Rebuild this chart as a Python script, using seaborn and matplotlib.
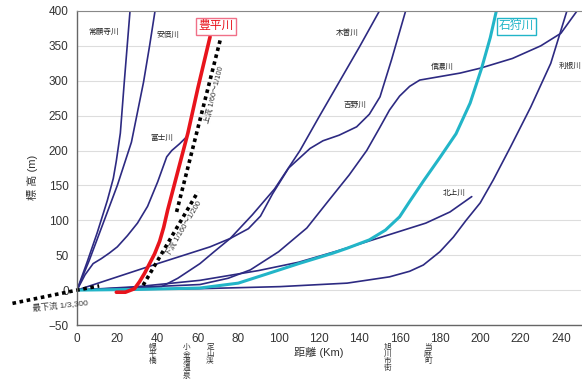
import seaborn as sns
import matplotlib.pyplot as plt

# river long profiles: distance from mouth (km) vs elevation (m)
joganji_x = [0, 5, 10, 15, 18, 19.5, 21.5, 23.5, 26.3]
joganji_y = [0, 40, 82, 128, 160, 185, 225, 300, 400]

abe_x = [0, 6, 13, 20, 27, 30, 33, 36, 38.7]
abe_y = [0, 42, 96, 150, 212, 255, 298, 350, 400]

fuji_x = [0, 4, 8, 12, 16, 20, 25, 30, 35, 40, 44.5, 47, 51, 54.5]
fuji_y = [0, 22, 38, 45, 53, 62, 78, 96, 120, 155, 191, 200, 210, 220]

toyohira_x = [19.5, 24, 28.5, 31, 33.5, 36, 38.5, 41, 43, 45, 50, 55, 60, 66]
toyohira_y = [-3, -3, 2, 12, 24, 38, 52, 70, 90, 115, 170, 225, 290, 363]

kiso_x = [0, 20, 42, 50, 61, 68, 76, 87, 98, 110.6, 120, 130, 140, 150]
kiso_y = [0, 2, 5, 17, 38, 55, 74, 108, 145, 200, 248, 298, 348, 400]

yoshino_x = [0, 20, 40, 66, 76, 85, 91, 97, 105, 115.6, 122, 130, 138.7, 145, 150.3, 156, 163]
yoshino_y = [0, 19, 38, 62, 74, 88, 106, 138, 175, 203, 214, 222, 234, 252, 277, 330, 400]

shinano_x = [0, 30, 61, 75, 86, 100, 114, 125, 135, 143.7, 150, 155, 160, 165, 170,
             180, 190, 200, 216, 230, 240, 248]
shinano_y = [0, 4, 8, 17, 29, 55, 89, 129, 165, 200, 232, 258, 278, 292, 301,
             306, 311, 318, 332, 350, 368, 400]

ishikari_x = [0, 30, 61, 80, 94, 110, 127, 134, 145, 153, 160, 165, 172, 180, 188,
              195, 200.7, 205, 208]
ishikari_y = [0, 1, 3, 10, 23, 38, 53, 60, 72, 86, 105, 127, 157, 190, 224,
              268, 318, 362, 400]

kitakami_x = [0, 30, 61, 90, 110, 129, 150, 173, 185, 195.8]
kitakami_y = [0, 5, 14, 28, 40, 56, 75, 96, 112, 134]

tone_x = [0, 60, 100.7, 134, 155, 165, 171.8, 180, 186.7, 193, 200, 206.5, 215, 225, 235, 243]
tone_y = [0, 2, 5, 10, 19, 27, 36, 55, 76, 100, 125, 158, 205, 262, 325, 400]

# gradient guide lines (dotted)
upper_guide_x = [49.4, 71]
upper_guide_y = [112, 358]
lower_guide_x = [32.8, 60]
lower_guide_y = [7, 141]
mouth_guide_x = [-32, 0, 11]
mouth_guide_y = [-19, 0, 6]

# place names under the distance axis
places = ["幌平橋", "小金湯温泉", "定山渓", "旭川市街", "当麻町"]
place_km = [37.5, 54.5, 66, 154, 174]

sns.set_style("white")
plt.rcParams["font.family"] = ["Liberation Sans", "Noto Sans CJK JP"]

fig = plt.figure(figsize=(5.82, 3.87), dpi=100)
ax = fig.add_axes([0.1323, 0.1602, 0.866, 0.8114])

navy = "#2d2a82"
thin = [(joganji_x, joganji_y), (abe_x, abe_y), (fuji_x, fuji_y), (kiso_x, kiso_y),
        (yoshino_x, yoshino_y), (shinano_x, shinano_y), (kitakami_x, kitakami_y),
        (tone_x, tone_y)]
for xs, ys in thin:
    sns.lineplot(x=xs, y=ys, sort=False, color=navy, lw=1.2, ax=ax)

sns.lineplot(x=ishikari_x, y=ishikari_y, sort=False, color="#22b5c8", lw=2.2, ax=ax)
sns.lineplot(x=toyohira_x, y=toyohira_y, sort=False, color="#e8141c", lw=2.6, ax=ax)

for xs, ys in [(upper_guide_x, upper_guide_y), (lower_guide_x, lower_guide_y),
               (mouth_guide_x, mouth_guide_y)]:
    sns.lineplot(x=xs, y=ys, sort=False, color="black", lw=2.6,
                 linestyle=(0, (1, 1)), ax=ax)
ax.lines[-1].set_clip_on(False)

ax.set_xlim(0, 250)
ax.set_ylim(-50, 400)
ax.set_xticks(range(0, 241, 20))
ax.set_yticks(range(-50, 401, 50))
ax.yaxis.grid(True, color="#dddddd", lw=0.8)
ax.set_axisbelow(True)
ax.tick_params(length=0, labelsize=8.5, labelcolor="#333333", pad=6)
for s in ["left", "bottom"]:
    ax.spines[s].set_color("#666666")
    ax.spines[s].set_linewidth(1.0)
ax.spines["top"].set_color("#888888")
ax.spines["top"].set_linewidth(0.8)
ax.spines["right"].set_visible(False)

ax.set_xlabel("距離 (Km)", fontsize=8, color="#333333")
ax.xaxis.set_label_coords(0.48, -0.07)
ax.set_ylabel("標 高 (m)", fontsize=8, color="#333333")
ax.yaxis.set_label_coords(-0.078, 0.47)

lab = dict(fontsize=5.5, color="#222222", ha="center", va="center")
ax.text(13, 370, "常願寺川", **lab)
ax.text(45, 365, "安倍川", **lab)
ax.text(42, 218, "富士川", **lab)
ax.text(134, 368, "木曽川", **lab)
ax.text(138, 265, "吉野川", **lab)
ax.text(181, 320, "信濃川", **lab)
ax.text(244.5, 320, "利根川", **lab)
ax.text(187, 139, "北上川", **lab)

ax.text(69, 378, "豊平川", fontsize=8.5, color="#e8141c", ha="center", va="center",
        bbox=dict(boxstyle="square,pad=0.2", fc="white", ec="#f07088", lw=1))
ax.text(218, 378, "石狩川", fontsize=8.5, color="#22b5c8", ha="center", va="center",
        bbox=dict(boxstyle="square,pad=0.2", fc="white", ec="#22b5c8", lw=1))

guide = dict(fontsize=5.5, color="#333333", ha="center", va="center")
ax.text(68, 280, "上流 1/60～1/100", rotation=76, **guide)
ax.text(53, 88, "下流 1/160～1/200", rotation=59, **guide)
ax.text(-8, -22, "最下流 1/3,300", rotation=6, clip_on=False, fontsize=6,
        color="#333333", ha="center", va="center")

for name, km in zip(places, place_km):
    ax.text(km, -77, "\n".join(name), fontsize=5.5, color="#333333", ha="center",
            va="top", linespacing=1.0, clip_on=False)

fig.savefig("out.png", dpi=100)
